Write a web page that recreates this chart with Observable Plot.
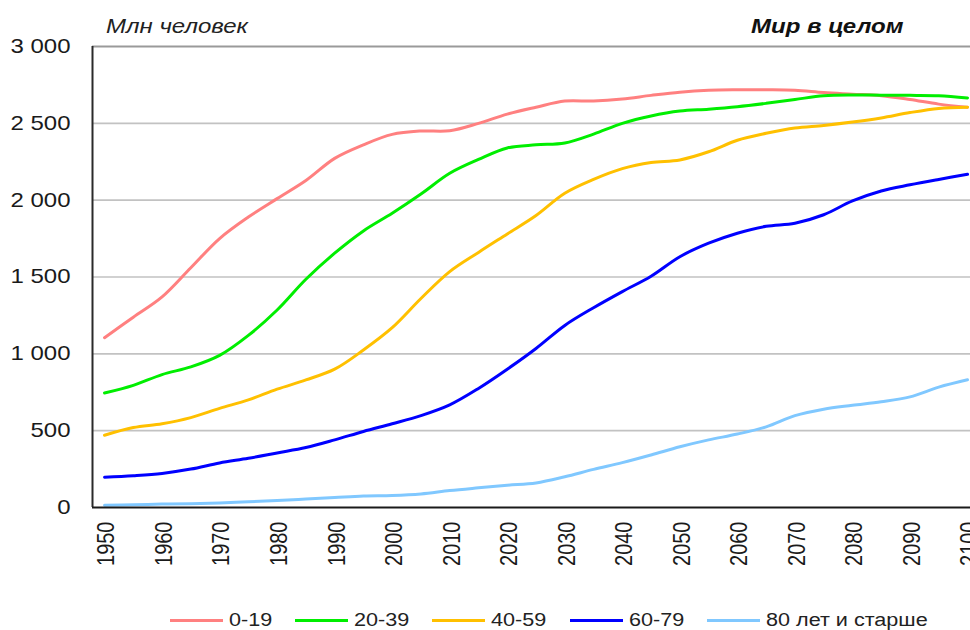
<!DOCTYPE html>
<html>
<head>
<meta charset="utf-8">
<script src="https://cdn.jsdelivr.net/npm/d3@7"></script>
<script src="https://cdn.jsdelivr.net/npm/@observablehq/plot@0.6"></script>
<style>
  body { margin: 0; background: #fff; font-family: "Liberation Sans", Arial, sans-serif; }
  #wrap { position: relative; width: 970px; height: 630px; overflow: hidden; background: #fff; }
  #chart { position: absolute; left: 0; top: 0; }
  .ttl { position: absolute; top: 16px; font-size: 20px; line-height: 20px; font-style: italic; color: #222;
         white-space: nowrap; transform-origin: left center; transform: scaleX(1.2); }
  .ttl.b { font-weight: bold; color: #111; }
  .leg-line { position: absolute; height: 3px; width: 53px; top: 619px; }
  .leg-text { position: absolute; top: 611px; font-size: 18px; line-height: 18px; color: #222; white-space: nowrap;
              transform-origin: left center; transform: scaleX(1.2); }
</style>
</head>
<body>
<div id="wrap">
  <div id="chart"></div>
  <div class="ttl" style="left:106px">Млн человек</div>
  <div class="ttl b" style="left:751px">Мир в целом</div>
</div>
<script>
// ---- Data ----
const years = [1950, 1955, 1960, 1965, 1970, 1975, 1980, 1985, 1990, 1995, 2000, 2005, 2010, 2015, 2020, 2025,
               2030, 2035, 2040, 2045, 2050, 2055, 2060, 2065, 2070, 2075, 2080, 2085, 2090, 2095, 2100];
const seriesNames = ["0-19", "20-39", "40-59", "60-79", "80 лет и старше"];
const age0_19 = [1105, 1238, 1370, 1560, 1750, 1890, 2010, 2128, 2272, 2360, 2428, 2450, 2452, 2500, 2560, 2605,
                 2645, 2645, 2658, 2682, 2703, 2715, 2718, 2718, 2715, 2700, 2690, 2680, 2655, 2625, 2605];
const age20_39 = [745, 795, 865, 915, 990, 1120, 1285, 1485, 1655, 1800, 1915, 2040, 2175, 2265, 2340, 2360,
                  2372, 2430, 2500, 2548, 2580, 2592, 2608, 2630, 2655, 2680, 2685, 2683, 2682, 2680, 2665];
const age40_59 = [470, 520, 545, 585, 645, 700, 770, 830, 900, 1025, 1170, 1360, 1535, 1660, 1780, 1900,
                  2045, 2135, 2205, 2245, 2262, 2315, 2390, 2435, 2470, 2486, 2508, 2535, 2570, 2597, 2605];
const age60_79 = [197, 207, 222, 250, 290, 320, 355, 390, 440, 495, 545, 598, 668, 775, 900, 1035,
                  1185, 1300, 1405, 1505, 1632, 1720, 1785, 1830, 1850, 1905, 1995, 2060, 2100, 2135, 2168];
const age80plus = [15, 18, 22, 25, 30, 38, 45, 55, 65, 75, 78, 88, 110, 128, 145, 160,
                   200, 248, 292, 342, 395, 440, 478, 525, 598, 640, 665, 688, 720, 783, 831];
const yTicks = [0, 500, 1000, 1500, 2000, 2500, 3000];
const xTicks = [1950, 1960, 1970, 1980, 1990, 2000, 2010, 2020, 2030, 2040, 2050, 2060, 2070, 2080, 2090, 2100];

// ---- Styles ----
const colors = ["#ff8080", "#00ee00", "#ffc000", "#0000ff", "#80c8ff"];

const allSeries = [age0_19, age20_39, age40_59, age60_79, age80plus];
const rows = [];
allSeries.forEach((vals, i) => vals.forEach((v, j) => rows.push({year: years[j], value: v, series: seriesNames[i]})));

const xDomain = [1947.91, 2100.52];
const fmt = d3.formatLocale({thousands: "\u00a0", grouping: [3], decimal: ","}).format(",");
const FS = 20;

const chart = Plot.plot({
  width: 970,
  height: 580,
  marginLeft: 92,
  marginRight: 0,
  marginTop: 46,
  marginBottom: 73,
  style: {fontFamily: "'Liberation Sans', Arial, sans-serif", fontSize: FS + "px", color: "#1a1a1a", background: "transparent"},
  x: {domain: xDomain, ticks: xTicks, tickFormat: d => String(d), tickSize: 0, tickPadding: 14, tickRotate: -90, label: null},
  y: {domain: [0, 3000], ticks: yTicks, tickFormat: fmt, tickSize: 0, tickPadding: 22, label: null},
  color: {domain: seriesNames, range: colors},
  marks: [
    Plot.ruleY(yTicks.filter(d => d > 0 && d < 3000), {stroke: "#c2c2c2", strokeWidth: 1.6}),
    Plot.ruleY([3000], {stroke: "#9a9a9a", strokeWidth: 2}),
    Plot.line(rows, {x: "year", y: "value", z: "series", stroke: "series", strokeWidth: 3, curve: "catmull-rom"}),
    Plot.ruleX([xDomain[0]], {y1: 0, y2: 3000, stroke: "#2a2a2a", strokeWidth: 2}),
    Plot.ruleY([0], {stroke: "#1a1a1a", strokeWidth: 2})
  ]
});
document.getElementById("chart").appendChild(chart);

// Stretch tick label glyphs horizontally like in the reference image
function len(v) {
  if (v == null || v === "") return 0;
  const n = parseFloat(v);
  if (isNaN(n)) return 0;
  return /em$/.test(v.trim()) ? n * FS : n;
}
function stretch(t, sx, sy, ex, ey) {
  const x = len(t.getAttribute("x")) + len(t.getAttribute("dx")) + (ex || 0);
  const y = len(t.getAttribute("y")) + len(t.getAttribute("dy")) + (ey || 0);
  ["x", "y", "dx", "dy"].forEach(a => t.removeAttribute(a));
  const tr = t.getAttribute("transform") || "";
  t.setAttribute("transform", `${tr} translate(${x},${y}) scale(${sx},${sy})`);
}
chart.querySelectorAll("text").forEach(t => {
  const s = t.textContent.trim();
  if (/^\d{4}$/.test(s)) stretch(t, 1, 1.2, 0, 3.5);
  else stretch(t, 1.2, 1, 0, 0);
});

// ---- Legend ----
const legendX = [170, 295, 432, 570, 707];
const wrap = document.getElementById("wrap");
seriesNames.forEach((name, i) => {
  const ln = document.createElement("div");
  ln.className = "leg-line";
  ln.style.left = legendX[i] + "px";
  ln.style.background = colors[i];
  wrap.appendChild(ln);
  const tx = document.createElement("div");
  tx.className = "leg-text";
  tx.style.left = (legendX[i] + 59) + "px";
  tx.textContent = name;
  wrap.appendChild(tx);
});
</script>
</body>
</html>
